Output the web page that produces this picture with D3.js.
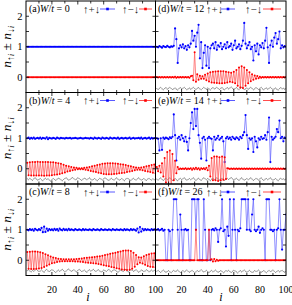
<!DOCTYPE html>
<html><head><meta charset="utf-8">
<script src="https://cdn.jsdelivr.net/npm/d3@7"></script>
<style>body{margin:0;background:#fff}svg{display:block}text{font-family:"Liberation Serif","DejaVu Serif",serif}</style>
</head><body>
<svg id="c" width="292" height="305"></svg>
<script>
// ---------------- data ----------------
const panelIds = ["(a)","(b)","(c)","(d)","(e)","(f)"];
const disorderW = [0,4,8,12,14,26];
const xTickValues = [20,40,60,80,100];
const yTickValues = [0,1,2];
const legendLabels = ["↑+↓","↑−↓"];

const totA = [1,1,1,1,1,1,1,1,1,1, 1,1,1,1,1,1,1,1,1,1, 1,1,1,1,1,1,1,1,1,1, 1,1,1,1,1,1,1,1,1,1, 1,1,1,1,1,1,1,1,1,1,
 1,1,1,1,1,1,1,1,1,1, 1,1,1,1,1,1,1,1,1,1, 1,1,1,1,1,1,1,1,1,1, 1,1,1,1,1,1,1,1,1,1, 1,1,1,1,1,1,1,1,1,1];
const magA = [0,0,0,0,0,0,0,0,0,0, 0,0,0,0,0,0,0,0,0,0, 0,0,0,0,0,0,0,0,0,0, 0,0,0,0,0,0,0,0,0,0, 0,0,0,0,0,0,0,0,0,0,
 0,0,0,0,0,0,0,0,0,0, 0,0,0,0,0,0,0,0,0,0, 0,0,0,0,0,0,0,0,0,0, 0,0,0,0,0,0,0,0,0,0, 0,0,0,0,0,0,0,0,0,0];

const totB = [1.00,1.02,0.98,1.01,0.99,1.02,0.98,1.00,1.01,0.99, 1.02,0.98,1.01,1.00,0.99,1.03,0.97,1.01,1.00,0.99,
 1.01,1.00,0.98,1.02,1.00,0.99,1.01,1.00,1.00,0.99, 1.01,1.00,1.00,1.01,0.99,1.00,1.00,1.01,1.00,0.99,
 1.00,1.01,1.00,0.99,1.00,1.01,1.00,1.00,0.99,1.01, 1.00,0.98,1.02,1.00,0.99,1.01,1.00,0.98,1.02,1.00,
 0.99,1.01,1.00,0.98,1.02,1.00,0.99,1.01,1.00,0.99, 1.02,0.98,1.00,1.01,0.99,1.00,1.01,0.99,1.00,1.02,
 0.98,1.00,1.01,0.99,1.00,1.00,1.01,0.99,1.02,0.98, 1.00,1.01,0.99,1.00,1.02,0.98,1.01,0.99,1.00,1.01];
const magB = [0.20,-0.21,0.21,-0.22,0.22,-0.22,0.22,-0.22,0.23,-0.22, 0.22,-0.22,0.22,-0.23,0.22,-0.22,0.22,-0.22,0.21,-0.21,
 0.21,-0.20,0.20,-0.19,0.18,-0.17,0.16,-0.15,0.13,-0.12, 0.10,-0.09,0.08,-0.07,0.06,-0.05,0.04,-0.03,0.03,-0.02,
 0.02,-0.02,0.02,-0.02,0.03,-0.03,0.04,-0.05,0.06,-0.07, 0.08,-0.09,0.10,-0.11,0.12,-0.13,0.14,-0.15,0.16,-0.17,
 0.17,-0.18,0.18,-0.18,0.18,-0.18,0.18,-0.17,0.17,-0.16, 0.16,-0.15,0.15,-0.14,0.14,-0.13,0.12,-0.11,0.10,-0.09,
 0.08,-0.07,0.06,-0.05,0.04,-0.03,0.03,-0.03,0.04,-0.05, 0.06,-0.07,0.08,-0.09,0.10,-0.11,0.12,-0.13,0.14,-0.15];
const gapB = [-.33,-.36,-.31,-.35,-.38,-.33,-.30,-.34,-.37,-.35, -.32,-.36,-.39,-.34,-.31,-.35,-.33,-.37,-.40,-.36,
 -.32,-.35,-.38,-.34,-.31,-.33,-.36,-.39,-.35,-.32, -.30,-.34,-.37,-.35,-.31,-.29,-.33,-.36,-.34,-.30,
 -.32,-.35,-.38,-.34,-.31,-.33,-.36,-.33,-.30,-.34, -.37,-.35,-.32,-.36,-.39,-.35,-.31,-.34,-.37,-.33,
 -.30,-.33,-.36,-.38,-.34,-.31,-.35,-.37,-.33,-.30, -.34,-.37,-.35,-.32,-.36,-.39,-.34,-.31,-.33,-.36,
 -.38,-.34,-.31,-.35,-.37,-.33,-.30,-.34,-.37,-.35, -.32,-.36,-.38,-.34,-.31,-.35,-.37,-.33,-.36,-.34];

const totC = [1.00,0.98,1.02,0.99,1.01,0.97,1.03,1.00,0.98,1.02, 0.99,1.06,0.92,1.10,0.93,1.04,0.97,1.02,0.99,1.01,
 0.98,1.03,0.99,1.02,0.97,1.04,1.00,0.98,1.03,0.99, 1.01,0.98,1.03,0.99,1.01,1.00,0.98,1.02,1.00,0.99,
 1.01,1.00,0.98,1.02,0.99,1.01,1.00,0.99,1.01,1.00, 0.98,1.02,1.00,0.99,1.01,1.00,0.98,1.02,1.00,0.99,
 1.01,1.00,0.99,1.01,1.00,0.98,1.02,1.00,0.99,1.01, 1.00,0.99,1.01,1.00,0.98,1.02,0.99,1.01,1.00,0.98,
 1.02,0.99,1.01,1.00,0.97,1.04,0.91,1.09,0.94,1.03, 0.98,1.02,0.99,1.01,1.00,0.98,1.02,0.99,1.01,1.00];
const magC = [0.27,-0.28,0.28,-0.29,0.29,-0.29,0.29,-0.28,0.28,-0.27, 0.26,-0.25,0.24,-0.22,0.20,-0.18,0.16,-0.14,0.12,-0.10,
 0.09,-0.08,0.07,-0.06,0.05,-0.04,0.04,-0.03,0.03,-0.03, 0.03,-0.03,0.03,-0.03,0.03,-0.03,0.03,-0.04,0.04,-0.04,
 0.05,-0.05,0.06,-0.06,0.07,-0.07,0.08,-0.08,0.09,-0.09, 0.10,-0.10,0.11,-0.11,0.12,-0.12,0.13,-0.14,0.15,-0.16,
 0.17,-0.18,0.19,-0.20,0.21,-0.22,0.23,-0.24,0.25,-0.26, 0.27,-0.28,0.29,-0.30,0.31,-0.31,0.32,-0.32,0.32,-0.31,
 0.30,-0.28,0.25,-0.21,0.17,-0.13,0.10,-0.08,0.09,-0.11, 0.13,-0.15,0.17,-0.19,0.20,-0.21,0.22,-0.22,0.23,-0.23];
const gapC = [-.34,-.31,-.35,-.38,-.33,-.36,-.32,-.29,-.34,-.37, -.35,-.31,-.36,-.39,-.33,-.30,-.35,-.37,-.34,-.31,
 -.33,-.37,-.40,-.35,-.32,-.36,-.33,-.30,-.34,-.38, -.35,-.31,-.29,-.33,-.36,-.34,-.31,-.35,-.38,-.34,
 -.30,-.33,-.37,-.35,-.32,-.36,-.39,-.34,-.31,-.35, -.33,-.30,-.34,-.37,-.33,-.31,-.35,-.38,-.36,-.32,
 -.34,-.37,-.33,-.30,-.35,-.38,-.34,-.31,-.33,-.36, -.39,-.35,-.32,-.34,-.37,-.33,-.30,-.35,-.38,-.34,
 -.31,-.33,-.36,-.34,-.31,-.35,-.39,-.36,-.32,-.34, -.37,-.35,-.31,-.34,-.38,-.35,-.32,-.36,-.33,-.35];

const totD = [1.00,0.98,1.02,1.00,0.97,1.02,1.00,0.99,1.03,1.00, 0.98,1.01,1.00,1.03,1.60,1.25,0.47,0.95,1.05,0.98,
 1.08,0.95,1.02,0.90,1.05,0.98,1.10,1.52,1.20,1.36, 1.00,1.46,1.72,0.62,1.15,0.30,0.80,1.05,0.38,1.00,
 0.30,0.95,1.05,1.10,0.95,1.15,0.90,1.05,1.00,1.12, 0.92,1.00,1.08,0.95,1.15,0.98,1.02,1.10,0.90,1.05,
 1.20,0.95,1.00,1.08,0.92,1.03,1.20,1.78,1.10,0.95, 1.05,1.15,0.92,1.00,0.55,1.05,0.85,1.10,0.75,1.05,
 0.98,1.12,0.95,1.20,1.62,0.98,0.47,1.05,1.20,1.00, 1.30,1.45,1.10,1.25,1.50,0.95,1.05,0.98,1.02,1.00];
const magD = [.01,-.01,.01,-.01,.01,-.01,.01,-.01,.01,-.01, .01,-.01,.01,-.01,.02,-.02,.01,-.01,.01,-.01,
 .01,-.01,.01,-.01,.01,-.02,.03,.05,-.10,.82, -.15,.10,-.08,.05,-.05,.03,-.05,.08,-.10,.12,
 -.14,.16,-.17,.18,-.18,.19,-.19,.20,-.20,.20, -.20,.20,-.19,.18,-.17,.16,-.15,.15,-.16,.18,
 -.20,.24,-.28,.32,-.34,.36,-.35,.32,-.28,.24, -.20,.16,-.13,.10,-.08,.06,-.05,.04,-.03,.02,
 -.02,.01,-.01,.01,-.01,.01,-.01,.01,-.01,.01, -.01,.01,-.01,.01,-.01,.01,-.01,.01,-.01,.01];
const gapD = [-.37,-.40,-.36,-.33,-.38,-.41,-.37,-.34,-.39,-.36, -.33,-.37,-.40,-.38,-.35,-.39,-.42,-.37,-.34,-.38,
 -.36,-.33,-.37,-.41,-.38,-.35,-.39,-.36,-.33,-.37, -.40,-.36,-.34,-.38,-.41,-.37,-.33,-.36,-.39,-.35,
 -.38,-.42,-.37,-.34,-.38,-.36,-.33,-.37,-.40,-.36, -.34,-.39,-.41,-.37,-.34,-.38,-.35,-.32,-.36,-.39,
 -.37,-.34,-.38,-.41,-.36,-.33,-.37,-.40,-.38,-.35, -.39,-.36,-.33,-.37,-.41,-.38,-.34,-.37,-.40,-.36,
 -.33,-.38,-.41,-.37,-.35,-.39,-.36,-.33,-.37,-.40, -.38,-.35,-.39,-.42,-.37,-.34,-.38,-.36,-.39,-.37];

const totE = [1.00,0.98,0.60,1.00,0.62,1.02,0.98,1.02,1.00,0.97, 1.03,1.00,1.05,1.78,1.10,0.27,1.00,1.05,0.95,1.10,
 1.00,0.90,1.05,0.88,0.60,1.00,1.50,1.85,1.30,1.96, 1.40,1.96,1.10,0.85,0.33,1.00,1.05,0.95,0.27,1.00,
 1.05,1.00,0.98,0.60,1.05,0.95,1.00,1.08,0.95,1.00, 1.05,0.90,0.22,1.00,1.05,0.98,1.02,0.95,1.05,1.00,
 0.97,1.03,1.00,0.95,1.05,1.00,1.10,1.20,1.76,1.10, 0.65,1.00,0.95,1.00,0.55,1.05,0.90,0.70,1.00,0.95,
 1.05,0.98,1.00,1.10,0.95,1.20,1.68,0.22,1.05,0.95, 1.00,1.05,1.30,1.20,1.58,1.00,1.05,0.90,1.02,1.00];
const magE = [.06,-.08,.10,-.12,.18,-.25,.35,-.45,.55,-.58, .60,-.55,.48,-.38,.26,-.15,.06,-.02,.01,-.01,
 .01,-.01,.02,-.02,.01,-.01,.02,-.03,.02,-.02, .03,-.02,.02,-.03,.02,-.01,.02,-.02,.03,-.05,
 .10,-.25,.35,-.38,.40,-.38,.40,-.40,.38,-.38, .40,-.36,.38,-.34,.02,.01,-.01,.01,-.01,.01,
 -.01,.01,-.01,.01,-.01,.01,-.01,.01,-.01,.01, -.01,.01,-.01,.01,-.01,.01,-.01,.01,-.01,.01,
 -.01,.01,-.01,.01,-.01,.01,-.01,.01,-.01,.01, -.01,.01,-.01,.01,-.01,.01,-.01,.01,-.01,.01];
const gapE = [-.34,-.37,-.33,-.30,-.35,-.38,-.34,-.31,-.36,-.33, -.30,-.34,-.38,-.35,-.32,-.36,-.39,-.34,-.31,-.35,
 -.33,-.30,-.34,-.37,-.35,-.32,-.36,-.33,-.30,-.34, -.38,-.34,-.31,-.35,-.38,-.33,-.30,-.33,-.36,-.32,
 -.35,-.39,-.34,-.31,-.35,-.33,-.30,-.34,-.37,-.33, -.31,-.36,-.38,-.34,-.31,-.35,-.32,-.29,-.33,-.36,
 -.34,-.31,-.35,-.38,-.33,-.30,-.34,-.37,-.35,-.32, -.36,-.33,-.30,-.34,-.38,-.35,-.31,-.34,-.37,-.33,
 -.30,-.35,-.38,-.34,-.32,-.36,-.33,-.30,-.34,-.37, -.35,-.32,-.36,-.39,-.34,-.31,-.35,-.33,-.36,-.34];

const totF = [1.00,1.02,0.98,1.00,1.03,0.97,1.00,0.00,0.00,1.00, 0.95,0.00,1.00,2.00,2.00,2.00,1.00,0.00,1.50,1.00,
 0.00,1.00,1.02,0.98,1.00,0.00,0.00,2.00,2.00,2.00, 1.00,2.00,2.00,0.00,0.00,0.00,2.00,1.00,0.00,0.00,
 1.00,0.00,1.00,1.02,0.98,1.05,1.00,0.60,1.00,1.05, 2.00,0.95,1.00,0.45,1.10,0.80,2.00,0.00,1.00,2.00,
 1.00,0.00,1.00,0.95,1.05,2.00,2.00,2.00,2.00,1.00, 2.00,1.00,0.95,1.50,2.00,1.00,0.95,1.00,1.10,0.90,
 1.00,1.05,1.00,0.00,2.00,2.00,2.00,1.00,1.00,0.95, 1.00,0.00,1.00,1.05,2.00,1.00,0.35,1.00,1.00,1.50];
const magF = [0,0,0,0,0,0,0,0,0,0, 0,0,0,0,0,0,0,0,0,0, 0,0,0,0,0,0,0,0,0,0, 1.00,0,0,0,0,0,0,0,0,0,
 1.00,.02,.03,-.04,.04,-.03,.02,-.02,0,0, 0,0,0,0,0,0,0,0,0,0, 0,0,0,0,0,0,0,0,0,0,
 0,0,0,0,0,0,0,0,0,0, 0,0,0,0,0,0,0,0,0,0, 0,0,0,0,0,0,0,0,0,0];
const gapF = [-.36,-.33,-.37,-.40,-.35,-.32,-.36,-.39,-.37,-.34, -.38,-.41,-.36,-.33,-.37,-.35,-.32,-.36,-.40,-.37,
 -.34,-.38,-.35,-.32,-.36,-.39,-.36,-.33,-.37,-.41, -.38,-.34,-.37,-.35,-.31,-.35,-.38,-.36,-.33,-.37,
 -.40,-.36,-.33,-.38,-.35,-.32,-.36,-.39,-.37,-.34, -.37,-.41,-.38,-.34,-.36,-.33,-.37,-.40,-.36,-.33,
 -.35,-.38,-.42,-.37,-.34,-.38,-.35,-.32,-.36,-.39, -.36,-.33,-.37,-.40,-.38,-.34,-.37,-.35,-.32,-.36,
 -.39,-.37,-.34,-.38,-.41,-.36,-.33,-.37,-.35,-.32, -.36,-.40,-.37,-.34,-.38,-.35,-.33,-.37,-.39,-.36];

const totals = [totA,totB,totC,totD,totE,totF];
const mags = [magA,magB,magC,magD,magE,magF];
const gaps = [null,gapB,gapC,gapD,gapE,gapF];

// ---------------- layout ----------------
const svg = d3.select("#c");
const cols = [{x0:26, x1:155.5, lab:29, t1:83, s1:[100,115], t2:122, s2:[139,152], xl:88},
              {x0:155.5, x1:286, lab:158, t1:206, s1:[221,235], t2:245, s2:[263,281], xl:221}];
const rowEdges = [1, 92.5, 184, 275.5];
const blueLine = "#5a5aff", blueMark = "#0000ff", redLine = "#ff4d4d", redMark = "#ff0000", grayC = "#a0a0a0";

const defs = svg.append("defs");

panelIds.forEach((pid, k) => {
  const col = cols[Math.floor(k/3)], row = k % 3;
  const y0 = rowEdges[row], y1 = rowEdges[row+1];
  const x = d3.scaleLinear().domain([0,100]).range([col.x0, col.x1]);
  const y = d3.scaleLinear().domain([-0.5,2.5]).range([y1, y0]);
  const sites = d3.range(1, 101);
  const g = svg.append("g");
  const clipId = "clip"+k;
  defs.append("clipPath").attr("id", clipId).append("rect")
    .attr("x", col.x0).attr("y", y0).attr("width", col.x1-col.x0).attr("height", y1-y0);
  const plot = g.append("g").attr("clip-path", `url(#${clipId})`);

  const line = d3.line().x((d,i)=>x(sites[i])).y(d=>y(d));
  const drawSeries = (vals, lc, mc, lw, r, op) => {
    plot.append("path").datum(vals).attr("d", line).attr("fill","none")
      .attr("stroke", lc).attr("stroke-width", lw).attr("stroke-opacity", op);
    plot.append("g").selectAll("circle").data(vals).join("circle")
      .attr("cx",(d,i)=>x(sites[i])).attr("cy",d=>y(d)).attr("r",r).attr("fill",mc);
  };
  if (gaps[k]) drawSeries(gaps[k], grayC, "#8c8c8c", 0.55, 0.55, 1);
  drawSeries(totals[k], blueLine, blueMark, 0.8, 1.1, 0.85);
  drawSeries(mags[k], redLine, redMark, 0.8, 1.0, 0.85);

  // ticks (inward) on all four sides
  const xt = d3.range(10, 100, 10);
  const yt = [0,0.5,1,1.5,2];
  const tk = g.append("g").attr("stroke","#000").attr("stroke-width",0.8);
  xt.forEach(v => {
    const L = v % 20 === 0 ? 3.5 : 2.5;
    tk.append("line").attr("x1",x(v)).attr("x2",x(v)).attr("y1",y1).attr("y2",y1-L);
    tk.append("line").attr("x1",x(v)).attr("x2",x(v)).attr("y1",y0).attr("y2",y0+L);
  });
  yt.forEach(v => {
    tk.append("line").attr("x1",col.x0).attr("x2",col.x0+3).attr("y1",y(v)).attr("y2",y(v));
    tk.append("line").attr("x1",col.x1).attr("x2",col.x1-3).attr("y1",y(v)).attr("y2",y(v));
  });
  g.append("rect").attr("x",col.x0).attr("y",y0).attr("width",col.x1-col.x0).attr("height",y1-y0)
    .attr("fill","none").attr("stroke","#000").attr("stroke-width",1);

  // y tick labels + y label (left column)
  if (k < 3) {
    yTickValues.forEach(v => g.append("text").attr("x",22.5).attr("y",y(v)+3.5)
      .attr("text-anchor","end").attr("font-size",10.5).text(v));
    const cy = (y0+y1)/2;
    const t = g.append("text").attr("transform",`translate(11,${cy}) rotate(-90)`)
      .attr("text-anchor","middle").attr("font-size",13.5);
    t.append("tspan").attr("font-style","italic").text("n");
    t.append("tspan").attr("font-size",9.5).attr("dy",3).text("↑");
    t.append("tspan").attr("font-size",9).attr("font-style","italic").text("i");
    t.append("tspan").attr("dy",-3).text(" ± ");
    t.append("tspan").attr("font-style","italic").text("n");
    t.append("tspan").attr("font-size",9.5).attr("dy",3).text("↓");
    t.append("tspan").attr("font-size",9).attr("font-style","italic").text("i");
  }
  // x tick labels + x label (bottom row)
  if (row === 2) {
    xTickValues.forEach(v => g.append("text").attr("x",x(v)).attr("y",292.5)
      .attr("text-anchor","middle").attr("font-size",10).text(v));
    g.append("text").attr("x",col.xl).attr("y",301).attr("font-size",12)
      .attr("font-style","italic").attr("text-anchor","middle").text("i");
  }
  // panel label
  const lt = g.append("text").attr("x",col.lab).attr("y",y0+11).attr("font-size",10);
  lt.append("tspan").text(pid);
  lt.append("tspan").attr("font-style","italic").text("W");
  lt.append("tspan").text("/");
  lt.append("tspan").attr("font-style","italic").text("t");
  lt.append("tspan").text(" = " + disorderW[k]);
  // legend
  const ly = y0 + 8;
  g.append("text").attr("x",col.t1).attr("y",y0+11.5).attr("font-size",11).attr("fill","#222").text(legendLabels[0]);
  g.append("text").attr("x",col.t2).attr("y",y0+11.5).attr("font-size",11).attr("fill","#222").text(legendLabels[1]);
  [[col.s1, blueLine, blueMark],[col.s2, redLine, redMark]].forEach(([s, lc, mc]) => {
    g.append("line").attr("x1",s[0]).attr("x2",s[1]).attr("y1",ly).attr("y2",ly)
      .attr("stroke",lc).attr("stroke-width",1);
    g.append("rect").attr("x",(s[0]+s[1])/2-1.3).attr("y",ly-1.3).attr("width",2.6).attr("height",2.6).attr("fill",mc);
  });
});
</script>
</body></html>
